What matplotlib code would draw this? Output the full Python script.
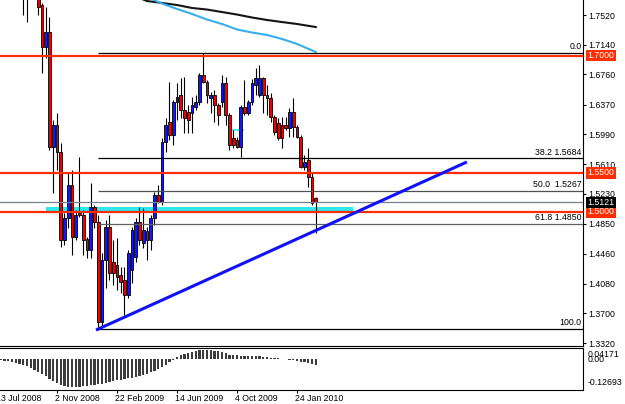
import numpy as np
import matplotlib.pyplot as plt
from matplotlib.patches import Rectangle

plt.rcParams['font.family'] = ['Liberation Sans', 'DejaVu Sans']

# weekly candles, bar index 0 = 13 Jul 2008
bars = np.arange(7, 86)
opens = [1.7968, 1.7904, 1.7850, 1.8250, 1.7776, 1.7648, 1.7110, 1.7302, 1.5830, 1.6112,
         1.5766, 1.4640, 1.4922, 1.5344, 1.4678, 1.4986, 1.4960, 1.4653, 1.4512, 1.5062,
         1.4870, 1.3590, 1.4384, 1.4806, 1.4358, 1.4320, 1.4192, 1.4128, 1.3936, 1.4256,
         1.4422, 1.4870, 1.4602, 1.4755, 1.4640, 1.4922, 1.5216, 1.5126, 1.5894, 1.6150,
         1.5984, 1.6406, 1.6496, 1.6304, 1.6278, 1.6266, 1.6342, 1.6406, 1.6752, 1.6662,
         1.6458, 1.6496, 1.6368, 1.6406, 1.6650, 1.6240, 1.5946, 1.5920, 1.5830, 1.6342,
         1.6266, 1.6406, 1.6624, 1.6496, 1.6714, 1.6496, 1.6458, 1.6214, 1.6138, 1.6112,
         1.6112, 1.6074, 1.6278, 1.6086, 1.5958, 1.5574, 1.5664, 1.5446, 1.5178]
highs = [1.8032, 1.7968, 1.8350, 1.8500, 1.7840, 1.7674, 1.7622, 1.7494, 1.6176, 1.6266,
         1.5882, 1.4986, 1.5510, 1.5536, 1.5024, 1.5702, 1.5024, 1.4678, 1.5370, 1.5088,
         1.4960, 1.4474, 1.4896, 1.4960, 1.4640, 1.4666, 1.4294, 1.4294, 1.4512, 1.4806,
         1.4922, 1.5062, 1.5050, 1.4806, 1.4960, 1.5254, 1.5344, 1.5946, 1.6202, 1.6662,
         1.6432, 1.6650, 1.6714, 1.6726, 1.6368, 1.6470, 1.6496, 1.6778, 1.7034, 1.6688,
         1.6534, 1.6560, 1.6394, 1.6752, 1.6726, 1.6266, 1.6048, 1.5958, 1.6368, 1.6688,
         1.6432, 1.6700, 1.6842, 1.6880, 1.6726, 1.6624, 1.6522, 1.6240, 1.6202, 1.6214,
         1.6214, 1.6330, 1.6458, 1.6112, 1.5984, 1.5728, 1.5818, 1.5510, 1.5190]
lows = [1.7520, 1.7430, 1.7800, 1.7780, 1.7520, 1.6778, 1.6970, 1.5792, 1.5242, 1.5536,
        1.4550, 1.4576, 1.4794, 1.4448, 1.4640, 1.4934, 1.4448, 1.4410, 1.4410, 1.4794,
        1.3488, 1.3526, 1.4026, 1.4128, 1.4064, 1.4000, 1.3962, 1.3680, 1.3898, 1.4090,
        1.4358, 1.4576, 1.4538, 1.4384, 1.4512, 1.4832, 1.5114, 1.5088, 1.5766, 1.5920,
        1.5856, 1.6176, 1.6202, 1.6010, 1.6010, 1.6010, 1.6304, 1.6368, 1.6650, 1.6394,
        1.6266, 1.6150, 1.6112, 1.6342, 1.6112, 1.5792, 1.5818, 1.5818, 1.5702, 1.6240,
        1.6240, 1.6368, 1.6496, 1.6470, 1.6266, 1.6240, 1.6150, 1.5984, 1.5920, 1.5818,
        1.6048, 1.5958, 1.5958, 1.5946, 1.5562, 1.5536, 1.5318, 1.5088, 1.4730]
closes = [1.7904, 1.7850, 1.8250, 1.7800, 1.7622, 1.7110, 1.7302, 1.5830, 1.6112, 1.5766,
          1.4640, 1.4922, 1.5344, 1.4678, 1.4960, 1.4960, 1.4640, 1.4512, 1.5062, 1.4870,
          1.3590, 1.4384, 1.4806, 1.4218, 1.4218, 1.4166, 1.4102, 1.3936, 1.4474, 1.4768,
          1.4870, 1.4640, 1.4768, 1.4640, 1.4922, 1.5216, 1.5126, 1.5894, 1.6112, 1.5984,
          1.6406, 1.6470, 1.6304, 1.6202, 1.6176, 1.6368, 1.6406, 1.6752, 1.6662, 1.6496,
          1.6496, 1.6368, 1.6240, 1.6650, 1.6240, 1.5856, 1.5856, 1.5830, 1.6342, 1.6266,
          1.6406, 1.6650, 1.6714, 1.6714, 1.6496, 1.6458, 1.6214, 1.6022, 1.5946, 1.5946,
          1.6074, 1.6278, 1.6086, 1.5958, 1.5574, 1.5638, 1.5446, 1.5114, 1.5121]

# moving averages (read every few bars)
ma_bars = [36, 40, 44, 48, 52, 56, 60, 64, 68, 72, 76, 80, 85]
ma_slow = [1.7776, 1.7699, 1.7674, 1.7648, 1.7610, 1.7590, 1.7558, 1.7526, 1.7488, 1.7456, 1.7430, 1.7405, 1.7366]
ma_fast = [1.7900, 1.7750, 1.7667, 1.7597, 1.7533, 1.7462, 1.7405, 1.7334, 1.7296, 1.7264, 1.7213, 1.7149, 1.7046]

# oscillator histogram, bars 1..85
osc_bars = np.arange(1, 86)
osc = [-0.006, -0.008, -0.010, -0.013, -0.018, -0.022, -0.027, -0.033, -0.040, -0.048,
       -0.058, -0.068, -0.078, -0.090, -0.100, -0.108, -0.116, -0.121, -0.125, -0.12693,
       -0.1265, -0.126, -0.124, -0.121, -0.118, -0.116, -0.114, -0.111, -0.108, -0.104,
       -0.100, -0.097, -0.094, -0.091, -0.088, -0.085, -0.081, -0.077, -0.072, -0.066,
       -0.060, -0.052, -0.044, -0.035, -0.025, -0.013, -0.003, 0.008, 0.017, 0.024,
       0.030, 0.034, 0.037, 0.040, 0.04171, 0.041, 0.040, 0.038, 0.036, 0.033,
       0.030, 0.018, 0.017, 0.017, 0.016, 0.016, 0.016, 0.015, 0.014, 0.013,
       0.011, 0.009, 0.007, 0.005, 0.003, 0.001, -0.001, -0.002, -0.004, -0.007,
       -0.011, -0.015, -0.019, -0.023, -0.027]

# objects on the chart
levels = [1.7000, 1.5500, 1.5000]
bid = 1.5121
fib_start = 27
fib_high, fib_low = 1.7034, 1.3500
fib_pct = [0.0, 38.2, 50.0, 61.8, 100.0]
fib_text = ["0.0", "38.2 1.5684", "50.0  1.5267", "61.8 1.4850", "100.0"]
fib_colors = ['black', 'black', '#505050', '#606060', 'black']
tl_bars = [26.4, 125.3]
tl_prices = [1.3486, 1.5638]
zone_bars = [13.1, 94.9]
zone_prices = [1.5002, 1.5066]
mark_bars = [62.0, 65.5]
mark_price = 1.6048

price_ticks = [1.7520, 1.7140, 1.6760, 1.6370, 1.5990, 1.5610, 1.5230, 1.4850, 1.4460, 1.4080, 1.3700, 1.3320]
date_bars = [0, 16, 32, 48, 64, 80]
date_labels = ["13 Jul 2008", "2 Nov 2008", "22 Feb 2009", "14 Jun 2009", "4 Oct 2009", "24 Jan 2010"]

RED = '#ff2e00'
fs = 6.3

fig = plt.figure(figsize=(6.25, 4.04), dpi=100)
ax = fig.add_axes([0, 58/404, 583/625, 346/404])
ax2 = fig.add_axes([0, 14/404, 583/625, 42/404])

ax.set_xlim(0.8, 156.27)
ax.set_ylim(1.32816, 1.77121)
ax2.set_xlim(0.8, 156.27)
ax2.set_ylim(-0.1406, 0.0508)

# cyan zone behind the candles
ax.add_patch(Rectangle((zone_bars[0], zone_prices[0]), zone_bars[1] - zone_bars[0],
                       zone_prices[1] - zone_prices[0], color='#2ee8f0', lw=0, zorder=1))
ax.plot(mark_bars, [mark_price, mark_price], color='#2ee8f0', lw=1.2, zorder=1)

# candles
o = np.array(opens); h = np.array(highs); l = np.array(lows); c = np.array(closes)
up = c >= o
ax.vlines(bars, l, h, color='black', lw=0.8, zorder=3)
body = np.maximum(np.abs(c - o), 0.0006)
ax.bar(bars, body, bottom=np.minimum(o, c), width=0.72,
       color=np.where(up, '#1414ff', '#ee0000'), edgecolor='black', linewidth=0.6, zorder=3)

# moving averages
ax.plot(ma_bars, ma_slow, color='#151515', lw=1.5, zorder=4)
ax.plot(ma_bars, ma_fast, color='#36aef0', lw=1.5, zorder=4)

# horizontal levels
for p in levels:
    ax.axhline(p, color=RED, lw=1.6, zorder=4)
ax.axhline(bid, color='#74808c', lw=0.9, zorder=4)

# fibonacci
rng = fib_high - fib_low
for pct, txt, col in zip(fib_pct, fib_text, fib_colors):
    p = fib_high - pct / 100 * rng
    ax.hlines(p, fib_start, 156.27, color=col, lw=0.9, zorder=4)
    ax.annotate(txt, xy=(1, p), xycoords=('axes fraction', 'data'), xytext=(-1, 1.2),
                textcoords='offset points', ha='right', va='bottom', fontsize=fs, color='black')

# trend line
ax.plot(tl_bars, tl_prices, color='#1010ff', lw=2.2, zorder=5, solid_capstyle='butt')

# axes look
for a in (ax, ax2):
    a.spines['left'].set_visible(False)
    a.set_facecolor('none')
ax.spines['top'].set_visible(False)
ax.set_xticks([])
ax.yaxis.tick_right()
ax.set_yticks(price_ticks)
ax.set_yticklabels([f"{p:.4f}" for p in price_ticks])
ax.tick_params(axis='y', direction='out', length=2, width=0.8, pad=1.5, labelsize=fs)

# price boxes on the scale
for p in levels:
    ax.annotate(f"{p:.4f}", xy=(1, p), xycoords=('axes fraction', 'data'), xytext=(3.3, 0),
                textcoords='offset points', ha='left', va='center', fontsize=fs, color='white',
                bbox=dict(boxstyle='square,pad=0.15', fc=RED, ec='none'), annotation_clip=False)
ax.annotate(f"{bid:.4f}", xy=(1, bid), xycoords=('axes fraction', 'data'), xytext=(3.3, 0),
            textcoords='offset points', ha='left', va='center', fontsize=fs, color='white',
            bbox=dict(boxstyle='square,pad=0.15', fc='black', ec='none'), annotation_clip=False)

# oscillator
ax2.bar(osc_bars, osc, width=0.55, color='#3c3c3c', lw=0)
ax2.set_yticks([])
ax2.yaxis.tick_right()
top, bot = max(osc), min(osc)
for val, va, txt in [(top, 'top', f"{top:.5f}"), (0.0, 'center', "0.00"), (bot, 'bottom', f"{bot:.5f}")]:
    ax2.annotate(txt, xy=(1, val), xycoords=('axes fraction', 'data'), xytext=(3.3, 0),
                 textcoords='offset points', ha='left', va=va, fontsize=fs, color='black',
                 annotation_clip=False)

ax2.set_xticks([b for b in date_bars if b > 0.8])
ax2.set_xticklabels([])
ax2.tick_params(axis='x', direction='out', length=2, width=0.8)
for b, lab in zip(date_bars, date_labels):
    ax2.text(b - 0.4, -0.2, lab, transform=ax2.get_xaxis_transform(), ha='left', va='center',
             fontsize=fs, clip_on=False)

fig.savefig('out.png', dpi=100)
